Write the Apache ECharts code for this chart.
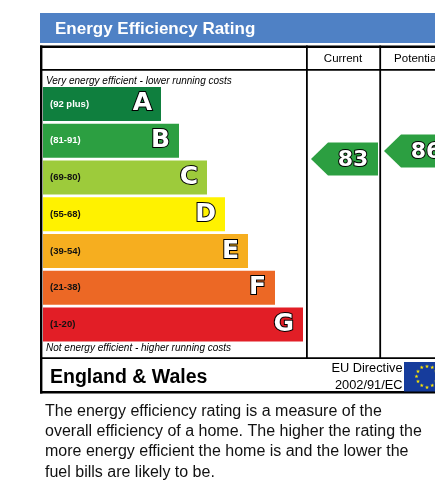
<!DOCTYPE html>
<html>
<head>
<meta charset="utf-8">
<script src="https://cdn.jsdelivr.net/npm/echarts@6/dist/echarts.min.js"></script>
<style>
html,body{margin:0;padding:0;background:#fff;}
#chart{width:435px;height:488px;}
</style>
</head>
<body>
<div id="chart"></div>
<script>
// ---- data ----
const bands = ['A', 'B', 'C', 'D', 'E', 'F', 'G'];
const bandRanges = ['(92 plus)', '(81-91)', '(69-80)', '(55-68)', '(39-54)', '(21-38)', '(1-20)'];
const bandMins = [92, 81, 69, 55, 39, 21, 1];
const barLengths = [118, 136, 164, 182, 205, 232, 260];
const bandColors = ['#0F7F3E', '#2C9F41', '#9DCB3B', '#FFF200', '#F6AE1F', '#EC6825', '#E21E26'];
const rangeLabelColors = ['#ffffff', '#ffffff', '#111111', '#111111', '#111111', '#111111', '#111111'];
const ratingColumns = ['Current', 'Potential'];
const ratingColumnPos = [0.5, 1.5];   // column centres, in column-width units
const ratingValues = [83, 86];
const titleText = 'Energy Efficiency Rating';
const topNote = 'Very energy efficient - lower running costs';
const bottomNote = 'Not energy efficient - higher running costs';
const regionText = 'England & Wales';
const directiveLines = ['EU Directive', '2002/91/EC'];
const paragraph = 'The energy efficiency rating is a measure of the\noverall efficiency of a home. The higher the rating the\nmore energy efficient the home is and the lower the\nfuel bills are likely to be.';

function bandColorFor(v) {
  for (let i = 0; i < bandMins.length; i++) if (v >= bandMins[i]) return bandColors[i];
  return bandColors[bandColors.length - 1];
}

const chart = echarts.init(document.getElementById('chart'), null, {renderer: 'canvas', width: 435, height: 488});

const lineCol = '#000';
const colWidthPx = 73;
const ratingGridLeft = 307;
const ratingGridWidth = 435 - ratingGridLeft;

const graphics = [
  {type: 'rect', shape: {x: 40, y: 13, width: 400, height: 30}, style: {fill: '#4F81C5'}},
  {type: 'text', x: 55, y: 29, style: {text: titleText, font: 'bold 17px "Liberation Sans", Arial', fill: '#fff', align: 'left', verticalAlign: 'middle'}},
  // table lines
  {type: 'rect', shape: {x: 40, y: 45.5, width: 400, height: 2.6}, style: {fill: lineCol}},
  {type: 'rect', shape: {x: 40, y: 45.5, width: 2.4, height: 348}, style: {fill: lineCol}},
  {type: 'rect', shape: {x: 40, y: 69, width: 400, height: 1.8}, style: {fill: lineCol}},
  {type: 'rect', shape: {x: 306, y: 45.5, width: 1.8, height: 313}, style: {fill: lineCol}},
  {type: 'rect', shape: {x: 379.3, y: 45.5, width: 1.8, height: 313}, style: {fill: lineCol}},
  {type: 'rect', shape: {x: 40, y: 357.2, width: 400, height: 1.9}, style: {fill: lineCol}},
  {type: 'rect', shape: {x: 40, y: 391, width: 400, height: 2.4}, style: {fill: lineCol}},
  // header texts
  {type: 'text', x: 343, y: 58.5, style: {text: ratingColumns[0], font: '11.5px "Liberation Sans", Arial', fill: '#000', align: 'center', verticalAlign: 'middle'}},
  {type: 'text', x: 416.5, y: 58.5, style: {text: ratingColumns[1], font: '11.5px "Liberation Sans", Arial', fill: '#000', align: 'center', verticalAlign: 'middle'}},
  // notes
  {type: 'text', x: 46, y: 81.5, style: {text: topNote, font: 'italic 10px "Liberation Sans", Arial', fill: '#000', align: 'left', verticalAlign: 'middle'}},
  {type: 'text', x: 46, y: 348, style: {text: bottomNote, font: 'italic 10px "Liberation Sans", Arial', fill: '#000', align: 'left', verticalAlign: 'middle'}},
  // footer
  {type: 'text', x: 50, y: 377.5, style: {text: regionText, font: 'bold 19.5px "Liberation Sans", Arial', fill: '#000', align: 'left', verticalAlign: 'middle'}},
  {type: 'text', x: 402.5, y: 368, style: {text: directiveLines[0], font: '12.8px "Liberation Sans", Arial', fill: '#000', align: 'right', verticalAlign: 'middle'}},
  {type: 'text', x: 402.5, y: 385, style: {text: directiveLines[1], font: '12.8px "Liberation Sans", Arial', fill: '#000', align: 'right', verticalAlign: 'middle'}},
  {type: 'rect', shape: {x: 404, y: 362, width: 46, height: 29.5}, style: {fill: '#163C9C'}},
  // paragraph
  {type: 'text', x: 45, y: 401, style: {text: paragraph, font: '16px "Liberation Sans", Arial', lineHeight: 20.4, fill: '#111', align: 'left', verticalAlign: 'top'}}
];
for (let k = 0; k < 12; k++) {
  const a = k * Math.PI / 6;
  graphics.push({type: 'text', x: 427 + 10.5 * Math.sin(a), y: 376.8 - 10.5 * Math.cos(a),
    style: {text: '\u2605', font: '5px "DejaVu Sans"', fill: '#FFE800', align: 'center', verticalAlign: 'middle'}});
}

const letterLabel = {
  show: true, position: 'insideRight', distance: 9, formatter: '{b}',
  fontFamily: '"DejaVu Sans", Verdana', fontWeight: 'bold', fontSize: 25,
  color: '#ffffff', textBorderColor: '#000000', textBorderWidth: 2,
  textShadowColor: 'rgba(0,0,0,0.6)', textShadowOffsetX: -1, textShadowOffsetY: 1, textShadowBlur: 0
};

const option = {
  animation: false,
  backgroundColor: '#ffffff',
  graphic: graphics,
  grid: [
    {left: 43, top: 85.6, width: 260, height: 257.3, containLabel: false},
    {left: ratingGridLeft, top: 113.67, width: ratingGridWidth, height: 266.67, containLabel: false}
  ],
  xAxis: [
    {gridIndex: 0, type: 'value', min: 0, max: 260, show: false},
    {gridIndex: 1, type: 'value', min: 0, max: ratingGridWidth / colWidthPx, show: false}
  ],
  yAxis: [
    {gridIndex: 0, type: 'category', data: bands, inverse: true, show: false},
    {gridIndex: 1, type: 'value', min: 0, max: 100, show: false}
  ],
  series: [
    {
      type: 'bar', xAxisIndex: 0, yAxisIndex: 0, barWidth: 34, silent: true,
      data: barLengths.map((v, i) => ({value: v, itemStyle: {color: bandColors[i]}})),
      label: letterLabel
    },
    {
      type: 'bar', xAxisIndex: 0, yAxisIndex: 0, barWidth: 34, barGap: '-100%', silent: true,
      data: barLengths.map((v, i) => ({value: v, label: {color: rangeLabelColors[i]}})),
      itemStyle: {color: 'rgba(0,0,0,0)'},
      label: {show: true, position: 'insideLeft', distance: 7,
        formatter: p => bandRanges[p.dataIndex],
        fontFamily: '"Liberation Sans", Arial', fontWeight: 'bold', fontSize: 9.5}
    },
    {
      type: 'custom', xAxisIndex: 1, yAxisIndex: 1, silent: true, clip: false,
      data: ratingValues.map((v, i) => [ratingColumnPos[i], v]),
      renderItem: function (params, api) {
        const v = api.value(1);
        const p = api.coord([api.value(0), v]);
        const cx = p[0], cy = p[1];
        const hh = 16.5, tip = 17;
        const left = cx - 32.5, right = cx + 34.5;
        return {
          type: 'group',
          children: [
            {type: 'polygon', shape: {points: [[left, cy], [left + tip, cy - hh], [right, cy - hh], [right, cy + hh], [left + tip, cy + hh]]},
              style: {fill: bandColorFor(v)}},
            {type: 'text', x: (left + tip + right) / 2, y: cy + 1,
              style: {text: String(v), font: 'bold 22px "DejaVu Sans", Verdana', fill: '#ffffff', stroke: '#000000', lineWidth: 2,
                align: 'center', verticalAlign: 'middle'}}
          ]
        };
      }
    }
  ]
};
chart.setOption(option);
</script>
</body>
</html>
